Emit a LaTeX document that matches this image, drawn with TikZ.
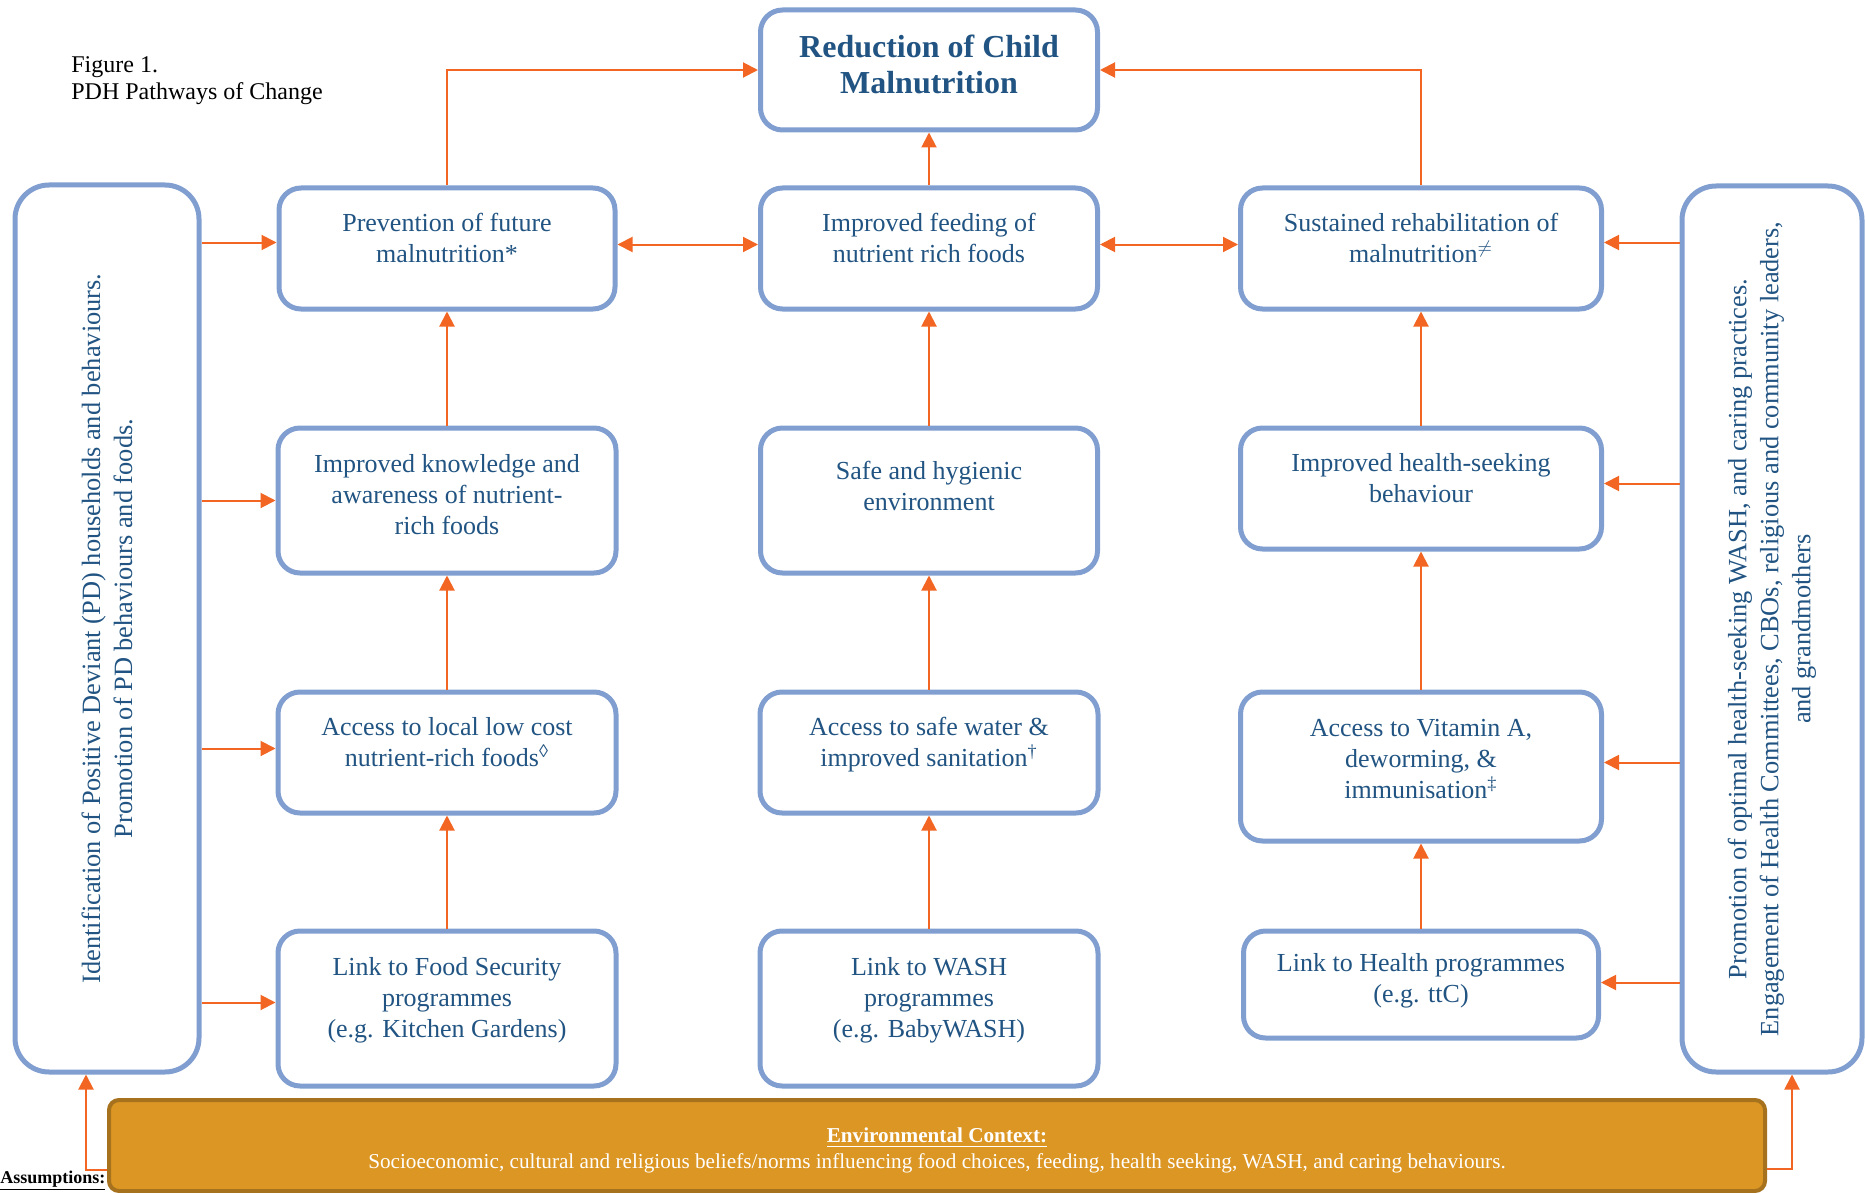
\documentclass[tikz,border=0pt]{standalone}
\usepackage{fontspec}
\setmainfont{Liberation Serif}
\usetikzlibrary{arrows.meta}
\definecolor{pdhblue}{RGB}{128,158,208}
\definecolor{pdhtext}{RGB}{33,84,130}
\definecolor{pdharrow}{RGB}{242,101,34}
\definecolor{pdhgold}{RGB}{220,150,35}
\definecolor{pdhgoldline}{RGB}{166,114,30}
\newcommand{\lift}[2]{\raisebox{#1}[\height][\depth]{\begin{tabular}{@{}c@{}}#2\end{tabular}}}

\begin{document}
\begin{tikzpicture}[x=0.5pt, y=-0.5pt, >={Triangle[length=7.5pt,width=7.5pt]},
  pbox/.style={draw=pdhblue, line width=2.5pt, rounded corners=11pt, fill=white, text=pdhtext, font=\fontsize{13}{15.5}\selectfont, inner sep=0pt},
  sidebox/.style={pbox, rounded corners=17pt, rotate=90, align=center, font=\fontsize{13.2}{16}\selectfont},
  arr/.style={draw=pdharrow, line width=1pt, ->},
  darr/.style={draw=pdharrow, line width=1pt, <->}]
  \useasboundingbox (0,0) rectangle (1865,1193);
  \node[anchor=north west, inner sep=0pt, align=left, font=\fontsize{12}{13.5}\selectfont] (figcap) at (71,56) {Figure 1.\\PDH Pathways of Change};
  \node[pbox, minimum width=168.5pt, minimum height=60pt, font=\bfseries\fontsize{16}{18}\selectfont] (red) at (929,70) {\lift{1pt}{Reduction of Child\\Malnutrition}};
  \node[pbox, minimum width=168pt, minimum height=60.5pt] (prev) at (447,248.5) {\lift{4pt}{Prevention of future\\malnutrition*}};
  \node[pbox, minimum width=168.5pt, minimum height=60.5pt] (feed) at (929,248.5) {\lift{4pt}{Improved feeding of\\nutrient rich foods}};
  \node[pbox, minimum width=180.5pt, minimum height=60.5pt] (sust) at (1421,248.5) {\lift{4pt}{Sustained rehabilitation of\\malnutrition$^{\neq}$}};
  \node[pbox, minimum width=169pt, minimum height=72.5pt] (know) at (447,500.5) {\lift{1.5pt}{Improved knowledge and\\awareness of nutrient-\\rich foods}};
  \node[pbox, minimum width=168.5pt, minimum height=72.5pt] (safe) at (929,500.5) {\lift{6pt}{Safe and hygienic\\environment}};
  \node[pbox, minimum width=180.5pt, minimum height=60.5pt] (seek) at (1421,488.5) {\lift{4pt}{Improved health-seeking\\behaviour}};
  \node[pbox, minimum width=169pt, minimum height=60.5pt] (local) at (447,752.5) {\lift{4pt}{Access to local low cost\\nutrient-rich foods\textsuperscript{◊}}};
  \node[pbox, minimum width=169pt, minimum height=60.5pt] (water) at (929,752.5) {\lift{4pt}{Access to safe water \&\\improved sanitation\textsuperscript{\textdagger}}};
  \node[pbox, minimum width=180.5pt, minimum height=74.5pt] (vita) at (1421,766.5) {\lift{2.5pt}{Access to Vitamin A,\\deworming, \&\\immunisation\textsuperscript{\textdaggerdbl}}};
  \node[pbox, minimum width=169pt, minimum height=77.5pt] (food) at (447,1008.5) {\lift{4pt}{Link to Food Security\\programmes\\(e.g. Kitchen Gardens)}};
  \node[pbox, minimum width=169pt, minimum height=77.5pt] (wash) at (929,1008.5) {\lift{4pt}{Link to WASH\\programmes\\(e.g. BabyWASH)}};
  \node[pbox, minimum width=177.5pt, minimum height=53.5pt] (health) at (1421,984.5) {\lift{2pt}{Link to Health programmes\\(e.g. ttC)}};
  \node[sidebox, minimum width=443.5pt, minimum height=92pt] (pdbox) at (107,628.5) {Identification of Positive Deviant (PD) households and behaviours.\\Promotion of PD behaviours and foods.};
  \node[sidebox, minimum width=443pt, minimum height=90pt] (promo) at (1772,629) {Promotion of optimal health-seeking WASH, and caring practices.\\Engagement of Health Committees, CBOs, religious and community leaders,\\and grandmothers};
  \node[draw=pdhgoldline, fill=pdhgold, line width=2pt, rounded corners=5pt, minimum width=828pt, minimum height=45.5pt, text=white, font=\fontsize{10.6}{12.8}\selectfont, inner sep=0pt] (env) at (937,1145.5) {\lift{-2.5pt}{\underline{\textbf{Environmental Context:}}\\Socioeconomic, cultural and religious beliefs/norms influencing food choices, feeding, health seeking, WASH, and caring behaviours.}};
  \node[anchor=base west, inner sep=0pt, font=\bfseries\fontsize{9}{10}\selectfont] (assume) at (0,1183) {\underline{Assumptions:}};
  \draw[arr] (prev.north) |- (red.west);
  \draw[arr] (sust.north) |- (red.east);
  \draw[arr] (feed) -- (red);
  \draw[darr] ([yshift=2pt]prev.east) -- ([yshift=2pt]feed.west);
  \draw[darr] ([yshift=2pt]feed.east) -- ([yshift=2pt]sust.west);
  \draw[arr] (know) -- (prev);
  \draw[arr] (local) -- (know);
  \draw[arr] (food) -- (local);
  \draw[arr] (safe) -- (feed);
  \draw[arr] (water) -- (safe);
  \draw[arr] (wash) -- (water);
  \draw[arr] (seek) -- (sust);
  \draw[arr] (vita) -- (seek);
  \draw[arr] (health) -- (vita);
  \draw[arr] ([yshift=3pt]prev.west -| pdbox.south) -- ([yshift=3pt]prev.west);
  \draw[arr] (know.west -| pdbox.south) -- (know.west);
  \draw[arr] ([yshift=2pt]local.west -| pdbox.south) -- ([yshift=2pt]local.west);
  \draw[arr] ([yshift=3pt]food.west -| pdbox.south) -- ([yshift=3pt]food.west);
  \draw[arr] ([yshift=3pt]sust.east -| promo.north) -- ([yshift=3pt]sust.east);
  \draw[arr] ([yshift=2.5pt]seek.east -| promo.north) -- ([yshift=2.5pt]seek.east);
  \draw[arr] ([yshift=2pt]vita.east -| promo.north) -- ([yshift=2pt]vita.east);
  \draw[arr] ([yshift=1pt]health.east -| promo.north) -- ([yshift=1pt]health.east);
  \coordinate (elbowL) at (86,1170);
  \coordinate (elbowR) at (1792,1169);
  \draw[arr] (env.west |- elbowL) -- (elbowL) -- (elbowL |- pdbox.west);
  \draw[arr] (env.east |- elbowR) -- (elbowR) -- (elbowR |- promo.west);
\end{tikzpicture}
\end{document}
